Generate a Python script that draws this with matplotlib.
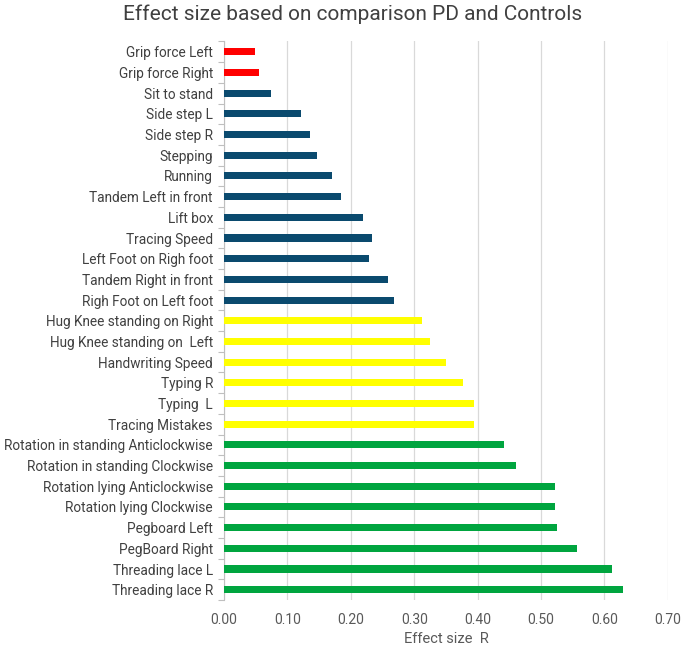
import matplotlib
matplotlib.use("Agg")
import matplotlib.pyplot as plt
import numpy as np

categories = [
    "Grip force Left", "Grip force Right", "Sit to stand", "Side step L", "Side step R",
    "Stepping", "Running", "Tandem Left in front", "Lift box", "Tracing Speed",
    "Left Foot on Righ foot", "Tandem Right in front", "Righ Foot on Left foot",
    "Hug Knee standing on Right", "Hug Knee standing on  Left", "Handwriting Speed",
    "Typing R", "Typing  L", "Tracing Mistakes",
    "Rotation in standing Anticlockwise", "Rotation in standing Clockwise",
    "Rotation lying Anticlockwise", "Rotation lying Clockwise", "Pegboard Left",
    "PegBoard Right", "Threading lace L", "Threading lace R",
]
values = [
    0.049, 0.055, 0.074, 0.122, 0.135,
    0.146, 0.171, 0.185, 0.219, 0.233,
    0.229, 0.259, 0.268,
    0.312, 0.325, 0.350,
    0.377, 0.394, 0.395,
    0.442, 0.461,
    0.522, 0.522, 0.525,
    0.556, 0.612, 0.629,
]
groups = ["red"] * 2 + ["blue"] * 11 + ["yellow"] * 6 + ["green"] * 8
group_colors = {"red": "#FF0000", "blue": "#0A4A6E", "yellow": "#FFFF00", "green": "#00A53F"}
x_ticks = [0.0, 0.1, 0.2, 0.3, 0.4, 0.5, 0.6, 0.7]

plt.rcParams["font.family"] = ["Roboto", "DejaVu Sans"]

fig = plt.figure(figsize=(6.85, 6.48), dpi=100)
ax = fig.add_axes([0.327, 0.074, 0.648, 0.862])

n = len(categories)
ypos = np.arange(n)
ax.barh(ypos, values, height=0.34, color=[group_colors[g] for g in groups], zorder=3)

ax.set_ylim(n - 0.5, -0.5)
ax.set_xlim(0, 0.7)
ax.set_yticks(ypos)
ax.set_yticklabels(categories, fontsize=9.8, color="#404040")
ax.set_yticks(np.arange(-0.5, n, 1), minor=True)
ax.tick_params(axis="y", which="major", length=0, pad=8)
ax.tick_params(axis="y", which="minor", length=4, color="#BFBFBF", width=0.8)

ax.set_xticks(x_ticks)
ax.set_xticklabels([f"{t:.2f}" for t in x_ticks], fontsize=10, color="#595959")
ax.tick_params(axis="x", length=0, pad=9)
ax.grid(axis="x", color="#D9D9D9", linewidth=0.9, zorder=0)

for s in ["top", "right", "bottom"]:
    ax.spines[s].set_visible(False)
ax.spines["left"].set_color("#BFBFBF")
ax.spines["left"].set_linewidth(0.8)

ax.set_xlabel("Effect size  R", fontsize=10.5, color="#595959", labelpad=4)
fig.suptitle("Effect size based on comparison PD and Controls", fontsize=15,
             color="#404040", x=0.515, y=0.993, va="top")

fig.savefig("out.png", dpi=100)
